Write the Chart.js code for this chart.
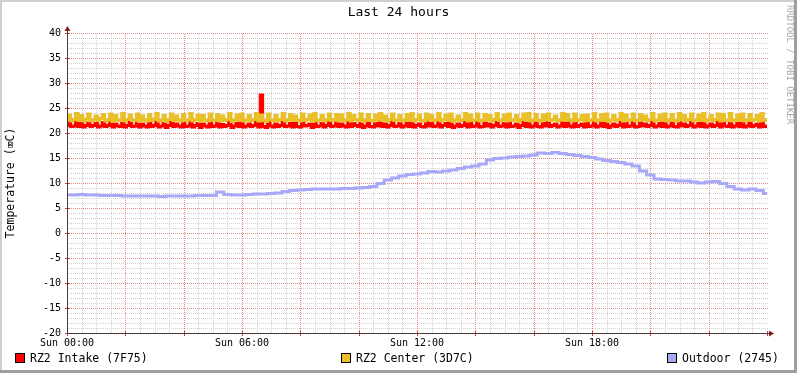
<!DOCTYPE html>
<html><head><meta charset="utf-8">
<script src="https://cdn.jsdelivr.net/npm/chart.js@4/dist/chart.umd.min.js"></script>
<style>html,body{margin:0;padding:0;background:#fff}canvas{display:block}</style>
</head><body>
<canvas id="c" width="797" height="373"></canvas>
<script>
const chartTitle = 'Last 24 hours';
const yAxisTitle = 'Temperature (⌧C)';
const watermark = 'RRDTOOL / TOBI OETIKER';
const seriesNames = ['RZ2 Intake (7F75)', 'RZ2 Center (3D7C)', 'Outdoor (2745)'];
const xTickLabels = ['Sun 00:00', 'Sun 06:00', 'Sun 12:00', 'Sun 18:00'];
const xRangeMinutes = [0, 1440];
const yRange = [-20, 40];
const xLabelStep = 360, xMajorStep = 120, xMinorStep = 30;
const yMajorStep = 5, yMinorStep = 1;
const stepMinutes = 5;
const outdoorStepMinutes = 15;

const intake = [
21.5,22.1,21.3,21.4,22.2,21.3,21.9,21.2, 21.5,22.0,21.3,21.5,21.9,21.2,21.4,22.1,
21.3,21.5,22.2,21.2,21.8,21.4,21.3,22.0, 21.2,21.5,22.1,21.3,21.4,22.0,21.2,21.8,
21.4,21.2,22.0,21.3,21.5,22.2,21.2,21.4, 21.9,21.1,21.5,22.1,21.3,21.8,21.4,21.2,
22.0,21.3,21.4,22.2,21.2,21.5,21.9,21.1, 21.8,21.4,21.2,22.1,21.3,21.4,22.0,21.2,
21.7,21.3,21.5,22.2,21.1,21.4,21.9,21.3, 22.1,21.2,21.4,21.8,21.3,21.5,22.2,21.2,
27.6,21.3,21.1,22.1,21.4,21.2,21.8,21.3, 21.5,22.2,21.3,21.4,21.9,21.2,22.0,21.3,
21.2,22.1,21.4,21.5,21.8,21.1,22.2,21.3, 21.4,21.9,21.2,21.5,22.1,21.3,21.4,22.0,
21.3,21.8,21.4,21.2,22.2,21.3,21.9,21.5, 21.3,22.1,21.1,21.4,22.0,21.3,21.2,21.9,
21.4,22.2,21.3,21.8,21.2,21.5,22.1,21.3, 21.4,21.9,21.2,21.4,22.0,21.3,22.2,21.2,
21.5,21.8,21.3,21.2,22.1,21.4,21.9,21.3, 21.4,22.2,21.2,21.5,21.9,21.3,22.1,21.1,
21.4,21.8,21.3,21.5,22.2,21.2,21.9,21.3, 21.4,22.1,21.2,21.3,22.0,21.4,21.8,21.2,
21.5,22.2,21.3,21.4,21.9,21.2,22.1,21.3, 21.4,21.8,21.1,21.5,22.1,21.3,22.2,21.2,
21.4,22.0,21.3,21.2,21.9,21.4,22.1,21.3, 21.5,21.8,21.2,21.4,22.2,21.3,22.0,21.4,
21.2,22.1,21.3,21.5,21.8,21.2,21.9,21.3, 21.4,22.2,21.2,21.4,22.0,21.3,22.1,21.1,
21.4,21.8,21.3,21.5,22.2,21.2,21.9,21.3, 21.4,22.1,21.2,21.3,22.0,21.4,21.8,21.3,
21.5,22.2,21.2,21.4,21.9,21.3,22.1,21.2, 21.4,22.0,21.3,21.2,22.2,21.4,21.8,21.3,
21.5,22.1,21.2,21.4,21.9,21.3,22.2,21.2, 21.4,21.8,21.3,21.5,22.1,21.2,22.0,21.4,
21.3,22.2,21.2,21.4,21.9,21.3,22.1,21.2, 21.4,22.0,21.3,21.5,21.8,21.2,22.2,21.3,
21.4
];

const center = [
22.6,23.6,22.4,22.7,23.9,22.5,23.5,22.4, 22.8,23.8,22.4,22.6,23.4,22.5,22.9,23.7,
22.4,22.6,23.8,22.3,23.5,22.6,22.5,23.9, 22.4,22.7,23.6,22.5,22.6,23.8,22.3,23.4,
22.6,22.4,23.7,22.5,22.8,23.9,22.4,22.6, 23.5,22.3,22.7,23.8,22.5,23.4,22.6,22.4,
23.7,22.5,22.6,23.9,22.4,22.7,23.6,22.3, 23.5,22.6,22.4,23.8,22.5,22.6,23.7,22.4,
23.4,22.5,22.7,23.9,22.3,22.6,23.6,22.5, 23.8,22.4,22.6,23.5,22.5,22.7,23.9,22.4,
23.6,22.5,22.3,23.8,22.6,22.4,23.5,22.5, 22.7,23.9,22.4,22.6,23.7,22.5,23.4,22.6,
22.4,23.8,22.5,22.7,23.6,22.3,23.9,22.5, 22.6,23.5,22.4,22.6,23.8,22.5,22.7,23.7,
22.4,23.6,22.5,22.6,23.9,22.4,23.5,22.7, 22.5,23.8,22.3,22.6,23.7,22.5,22.4,23.6,
22.6,23.9,22.5,23.4,22.4,22.7,23.8,22.5, 22.6,23.5,22.4,22.6,23.7,22.5,23.9,22.4,
22.7,23.6,22.5,22.4,23.8,22.6,23.5,22.5, 22.6,23.9,22.4,22.7,23.6,22.5,23.8,22.3,
22.6,23.4,22.5,22.7,23.9,22.4,23.6,22.5, 22.6,23.8,22.4,22.5,23.7,22.6,23.5,22.4,
22.7,23.9,22.5,22.6,23.6,22.4,23.8,22.5, 22.6,23.5,22.3,22.7,23.8,22.5,23.9,22.4,
22.6,23.7,22.5,22.4,23.6,22.6,23.8,22.5, 22.7,23.4,22.4,22.6,23.9,22.5,23.7,22.6,
22.4,23.8,22.5,22.7,23.5,22.4,23.6,22.5, 22.6,23.9,22.4,22.6,23.7,22.5,23.8,22.3,
22.6,23.5,22.5,22.7,23.9,22.4,23.6,22.5, 22.6,23.8,22.4,22.5,23.7,22.6,23.4,22.5,
22.7,23.9,22.4,22.6,23.6,22.5,23.8,22.4, 22.6,23.7,22.5,22.4,23.9,22.6,23.5,22.5,
22.7,23.8,22.4,22.6,23.6,22.5,23.9,22.4, 22.6,23.5,22.5,22.7,23.8,22.4,23.7,22.6,
22.5,23.9,22.4,22.6,23.6,22.5,23.8,22.4, 22.6,23.7,22.5,22.7,23.5,22.4,23.9,22.5,
22.6
];

const outdoor = [
7.6,7.6,7.7,7.6,7.6,7.5,7.5,7.5,7.4,7.4,
7.4,7.4,7.4,7.3,7.4,7.4,7.4,7.4,7.5,7.5,
7.5,8.2,7.7,7.6,7.6,7.7,7.8,7.8,7.9,8.0,
8.3,8.5,8.6,8.7,8.8,8.8,8.8,8.8,8.9,8.9,
9.0,9.1,9.3,9.9,10.6,11.0,11.4,11.7,11.8,12.0,
12.3,12.2,12.4,12.6,12.9,13.2,13.4,13.8,14.6,14.9,
15.0,15.2,15.3,15.4,15.6,16.0,15.9,16.1,15.9,15.7,
15.5,15.3,15.1,14.8,14.5,14.3,14.1,13.8,13.4,12.4,
11.6,10.8,10.7,10.6,10.4,10.4,10.2,10.0,10.2,10.3,
9.9,9.3,8.8,8.6,8.8,8.5,7.9
];

const FONT = '"DejaVu Sans Mono", monospace';
const RED = '#FF0000', YEL = '#E9C02A', BLUE = '#A8A8F8';
const MAJOR = 'rgb(226,138,138)';
const MINOR = 'rgb(208,208,208)';
const seriesColors = [RED, YEL, BLUE];

const pts = (arr, step) => arr.map((v, i) => ({x: i * step, y: v}));

function gridLines(c, a, xs, ys, xStep, yStep, skipX, skipY, color) {
  c.strokeStyle = color; c.lineWidth = 1; c.setLineDash([1, 1]);
  for (let v = xRangeMinutes[0] + xStep; v < xRangeMinutes[1]; v += xStep) {
    if (skipX && v % skipX === 0) continue;
    const x = Math.round(xs.getPixelForValue(v)) + 0.5;
    c.beginPath(); c.moveTo(x, a.bottom); c.lineTo(x, a.top); c.stroke();
  }
  for (let v = yRange[0] + yStep; v <= yRange[1]; v += yStep) {
    if (skipY && v % skipY === 0) continue;
    const y = Math.round(ys.getPixelForValue(v)) + 0.5;
    c.beginPath(); c.moveTo(a.left, y); c.lineTo(a.right + 2, y); c.stroke();
  }
}

const rrdPlugin = {
  id: 'rrd',
  beforeDraw(chart) {
    const c = chart.ctx, W = chart.width, H = chart.height;
    c.save();
    c.fillStyle = '#fff'; c.fillRect(0, 0, W, H);
    c.fillStyle = '#CFCFCF'; c.fillRect(0, 0, W, 2); c.fillRect(0, 0, 2, H);
    c.fillStyle = '#9E9E9E'; c.fillRect(W - 3, 0, 3, H); c.fillRect(0, H - 3, W, 3);
    c.restore();
  },
  beforeDatasetsDraw(chart) {
    const c = chart.ctx, a = chart.chartArea, xs = chart.scales.x, ys = chart.scales.y;
    c.save();
    gridLines(c, a, xs, ys, xMinorStep, yMinorStep, xMajorStep, yMajorStep, MINOR);
    gridLines(c, a, xs, ys, xMajorStep, yMajorStep, 0, 0, MAJOR);
    c.restore();
  },
  afterDraw(chart) {
    const c = chart.ctx, a = chart.chartArea;
    const xs = chart.scales.x, ys = chart.scales.y;
    c.save();
    c.strokeStyle = '#C04040'; c.lineWidth = 1;
    ys.ticks.forEach(t => { const y = Math.round(ys.getPixelForValue(t.value)) + 0.5;
      c.beginPath(); c.moveTo(a.left - 2, y); c.lineTo(a.left + 3, y); c.stroke(); });
    xs.ticks.forEach(t => { const x = Math.round(xs.getPixelForValue(t.value)) + 0.5;
      c.beginPath(); c.moveTo(x, a.bottom - 2); c.lineTo(x, a.bottom + 3); c.stroke(); });
    const L = Math.round(a.left) + 0.5, B = Math.round(a.bottom) + 0.5;
    c.strokeStyle = '#4a3a3a'; c.lineWidth = 1;
    c.beginPath(); c.moveTo(L, B); c.lineTo(L, a.top - 5); c.stroke();
    c.beginPath(); c.moveTo(L, B); c.lineTo(a.right + 5, B); c.stroke();
    c.fillStyle = '#8B1A1A';
    c.beginPath(); c.moveTo(L - 3, a.top - 2); c.lineTo(L + 3, a.top - 2); c.lineTo(L, a.top - 7); c.closePath(); c.fill();
    c.beginPath(); c.moveTo(a.right + 2, B - 3); c.lineTo(a.right + 2, B + 3); c.lineTo(a.right + 7, B); c.closePath(); c.fill();
    c.font = '11.5px ' + FONT; c.textBaseline = 'middle'; c.textAlign = 'left';
    const widths = seriesNames.map(n => 15 + c.measureText(n).width);
    const left = 15, right = 779, ly = 358;
    const gap = (right - left - widths.reduce((s, w) => s + w, 0)) / (seriesNames.length - 1);
    let x = left;
    seriesNames.forEach((n, i) => {
      const bx = Math.round(x);
      c.fillStyle = seriesColors[i]; c.fillRect(bx, ly - 5, 10, 10);
      c.strokeStyle = '#000'; c.lineWidth = 1; c.strokeRect(bx + 0.5, ly - 4.5, 9, 9);
      c.fillStyle = '#000'; c.fillText(n, bx + 15, ly + 1);
      x += widths[i] + gap;
    });
    c.translate(789, 5); c.rotate(Math.PI / 2);
    c.font = '9px ' + FONT; c.fillStyle = '#A8A8A8'; c.textBaseline = 'middle';
    c.fillText(watermark, 0, 0);
    c.restore();
  }
};

new Chart(document.getElementById('c').getContext('2d'), {
  type: 'line',
  data: {
    datasets: [
      {label: seriesNames[0], data: pts(intake, stepMinutes), borderColor: RED, backgroundColor: RED,
       borderWidth: 3, stepped: 'middle', order: 1, xAxisID: 'x', yAxisID: 'y'},
      {label: seriesNames[1], data: pts(center, stepMinutes), borderColor: YEL, backgroundColor: YEL,
       borderWidth: 3, stepped: 'middle', order: 0, xAxisID: 'x', yAxisID: 'y'},
      {label: seriesNames[2], data: pts(outdoor, outdoorStepMinutes), borderColor: BLUE, backgroundColor: BLUE,
       borderWidth: 3, stepped: 'middle', order: 2, xAxisID: 'x', yAxisID: 'y'}
    ]
  },
  options: {
    responsive: false, animation: false, events: [],
    elements: {point: {radius: 0}, line: {tension: 0, borderCapStyle: 'butt', borderJoinStyle: 'miter'}},
    layout: {padding: 0},
    plugins: {
      legend: {display: false}, tooltip: {enabled: false},
      title: {display: true, text: chartTitle, color: '#000',
              font: {family: FONT, size: 13, weight: 'normal'}, padding: {top: 5, bottom: 12.4}}
    },
    scales: {
      x: {type: 'linear', min: xRangeMinutes[0], max: xRangeMinutes[1], position: 'bottom',
          afterFit: s => { s.height = 40; },
          ticks: {stepSize: xMajorStep, maxTicksLimit: 1000, autoSkip: false, maxRotation: 0, minRotation: 0,
                  padding: 4, color: '#000', font: {family: FONT, size: 10},
                  callback: v => (v % xLabelStep === 0 ? (xTickLabels[v / xLabelStep] || '') : '')},
          grid: {display: false, drawTicks: false},
          border: {display: false}},
      y: {type: 'linear', min: yRange[0], max: yRange[1], position: 'left',
          afterFit: s => { s.width = 67; },
          ticks: {stepSize: yMajorStep, maxTicksLimit: 1000, padding: 6, color: '#000', font: {family: FONT, size: 10}},
          title: {display: true, text: yAxisTitle, color: '#000', font: {family: FONT, size: 11.5}, padding: {top: 4, bottom: 4}},
          grid: {display: false, drawTicks: false},
          border: {display: false}},
      yr: {type: 'linear', min: yRange[0], max: yRange[1], position: 'right',
           afterFit: s => { s.width = 30; },
           ticks: {display: false}, grid: {display: false, drawTicks: false}, border: {display: false}}
    }
  },
  plugins: [rrdPlugin]
});
</script>
</body></html>
